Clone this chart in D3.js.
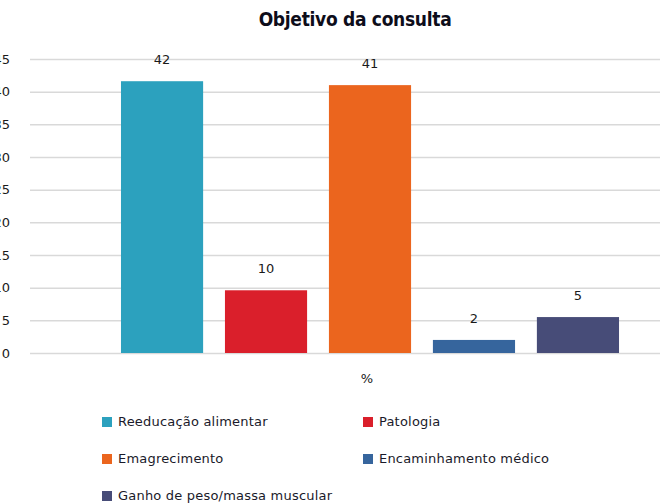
<!DOCTYPE html>
<html>
<head>
<meta charset="utf-8">
<script src="https://cdn.jsdelivr.net/npm/d3@7"></script>
<style>
  body { margin: 0; background: #fff; }
  svg { display: block; }
</style>
</head>
<body>
<div id="chart"></div>
<script>
var categories = ["%"];
var series = ["Reeducação alimentar", "Patologia", "Emagrecimento", "Encaminhamento médico", "Ganho de peso/massa muscular"];
// bar heights; the labels are the rounded figures shown
var values = [41.6, 9.6, 41.0, 2.0, 5.5];
var valueLabels = ["42", "10", "41", "2", "5"];
var colors = ["#2ca1be", "#da1f2b", "#eb651e", "#36659d", "#474c78"];
var yTicks = [0, 5, 10, 15, 20, 25, 30, 35, 40, 45];

var width = 660, height = 503;

var svg = d3.select("#chart").append("svg")
  .attr("width", width)
  .attr("height", height);

// plot area runs past the right edge (chart was cropped)
var x0 = d3.scaleBand()
  .domain(categories)
  .range([30, 710])
  .paddingInner(0)
  .paddingOuter(0.154);

var x1 = d3.scaleBand()
  .domain(series)
  .range([0, x0.bandwidth()])
  .paddingInner(0.21)
  .paddingOuter(0.105);

var y = d3.scaleLinear()
  .domain([0, 45])
  .range([353, 59]);

// gridlines + y labels
var yAxis = d3.axisLeft(y)
  .tickValues(yTicks)
  .tickSize(-(width - 30))
  .tickPadding(20);

var gy = svg.append("g")
  .attr("transform", "translate(30,0)")
  .call(yAxis);

gy.select(".domain").remove();
gy.selectAll(".tick line")
  .attr("stroke", "#d9d9d9")
  .attr("stroke-width", 1.5);
gy.selectAll(".tick text")
  .attr("fill", "#1a1a1a")
  .style("font-family", "DejaVu Sans, sans-serif")
  .style("font-size", "13px");

// title
svg.append("text")
  .attr("x", 355)
  .attr("y", 26)
  .attr("text-anchor", "middle")
  .style("font-family", "'Liberation Sans Narrow', 'DejaVu Sans Condensed', sans-serif")
  .style("font-weight", "bold")
  .style("font-size", "19px")
  .style("letter-spacing", "-0.3px")
  .attr("fill", "#0d0d1a")
  .text("Objetivo da consulta");

var group = svg.selectAll("g.cat")
  .data(categories)
  .enter()
  .append("g")
  .attr("class", "cat")
  .attr("transform", function (d) { return "translate(" + x0(d) + ",0)"; });

var data = series.map(function (s, i) {
  return { name: s, value: values[i], label: valueLabels[i], color: colors[i] };
});

group.selectAll("rect")
  .data(data)
  .enter()
  .append("rect")
  .attr("x", function (d) { return x1(d.name); })
  .attr("y", function (d) { return y(d.value); })
  .attr("width", x1.bandwidth())
  .attr("height", function (d) { return y(0) - y(d.value); })
  .attr("fill", function (d) { return d.color; });

group.selectAll("text.val")
  .data(data)
  .enter()
  .append("text")
  .attr("class", "val")
  .attr("x", function (d) { return x1(d.name) + x1.bandwidth() / 2; })
  .attr("y", function (d) { return y(d.value) - 17; })
  .attr("text-anchor", "middle")
  .style("font-family", "DejaVu Sans, sans-serif")
  .style("font-size", "13px")
  .attr("fill", "#1a1a1a")
  .text(function (d) { return d.label; });

// category label
svg.selectAll("text.cat")
  .data(categories)
  .enter()
  .append("text")
  .attr("class", "cat")
  .attr("x", function (d) { return x0(d) + x0.bandwidth() / 2 - 3; })
  .attr("y", 383)
  .attr("text-anchor", "middle")
  .style("font-family", "DejaVu Sans, sans-serif")
  .style("font-size", "13px")
  .attr("fill", "#1a1a1a")
  .text(function (d) { return d; });

// legend, two columns
var legend = svg.selectAll("g.legend")
  .data(data)
  .enter()
  .append("g")
  .attr("class", "legend")
  .attr("transform", function (d, i) {
    var col = i % 2, row = Math.floor(i / 2);
    return "translate(" + (102 + col * 261) + "," + (417 + row * 37) + ")";
  });

legend.append("rect")
  .attr("width", 10)
  .attr("height", 10)
  .attr("fill", function (d) { return d.color; });

legend.append("text")
  .attr("x", 16)
  .attr("y", 9)
  .style("font-family", "DejaVu Sans, sans-serif")
  .style("font-size", "13px")
  .style("letter-spacing", "0.2px")
  .attr("fill", "#1a1a2a")
  .text(function (d) { return d.name; });
</script>
</body>
</html>
